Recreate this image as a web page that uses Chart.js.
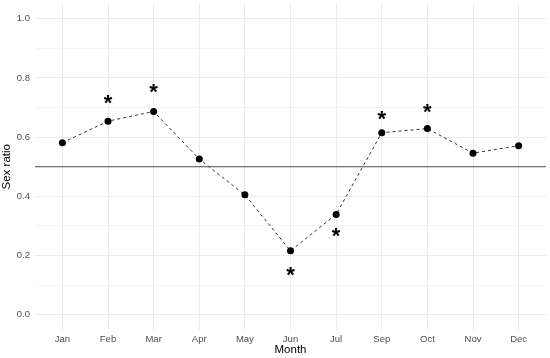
<!DOCTYPE html>
<html>
<head>
<meta charset="utf-8">
<script src="https://cdn.jsdelivr.net/npm/chart.js@4"></script>
<style>
  html, body { margin: 0; padding: 0; background: #fff; }
  .wrap { width: 550px; height: 358px; }
</style>
</head>
<body>
<div class="wrap"><canvas id="myChart"></canvas></div>
<script>
// data
const months = ["Jan", "Feb", "Mar", "Apr", "May", "Jun", "Jul", "Sep", "Oct", "Nov", "Dec"];
const sexRatio = [0.581, 0.654, 0.687, 0.526, 0.405, 0.216, 0.339, 0.615, 0.629, 0.546, 0.571];
// where the significance stars sit (null = none)
const starPos = [null, 0.728, 0.765, null, null, 0.148, 0.278, 0.676, 0.700, null, null];
const refLine = 0.5;

const ctx = document.getElementById("myChart");

const extras = {
  id: "extras",
  beforeDatasetsDraw(chart) {
    const { ctx, chartArea, scales } = chart;
    const y = scales.y.getPixelForValue(refLine);
    ctx.save();
    ctx.strokeStyle = "#4d4d4d";
    ctx.lineWidth = 1.2;
    ctx.beginPath();
    ctx.moveTo(chartArea.left, y);
    ctx.lineTo(chartArea.right, y);
    ctx.stroke();
    ctx.restore();
  },
  afterDatasetsDraw(chart) {
    const { ctx, scales } = chart;
    ctx.save();
    ctx.fillStyle = "#000";
    ctx.font = "bold 22px 'Liberation Sans', Arial, sans-serif";
    ctx.textAlign = "center";
    ctx.textBaseline = "alphabetic";
    starPos.forEach((v, i) => {
      if (v === null) return;
      const px = scales.x.getPixelForValue(i);
      const py = scales.y.getPixelForValue(v);
      ctx.fillText("*", px, py + 11);
    });
    ctx.restore();
  },
};

new Chart(ctx, {
  type: "line",
  data: {
    datasets: [
      {
        label: "Sex ratio",
        data: sexRatio.map((v, i) => ({ x: i, y: v })),
        borderColor: "#333",
        borderWidth: 1,
        borderDash: [3, 3],
        pointRadius: 3.5,
        pointBackgroundColor: "#000",
        pointBorderColor: "#000",
        pointBorderWidth: 0,
        tension: 0,
      },
    ],
  },
  options: {
    responsive: true,
    maintainAspectRatio: false,
    animation: false,
    layout: { padding: { left: 0, right: 3, top: 3.5, bottom: 0 } },
    plugins: {
      legend: { display: false },
      tooltip: { enabled: false },
    },
    scales: {
      x: {
        type: "linear",
        min: -0.6,
        max: months.length - 0.4,
        afterBuildTicks: (scale) => {
          scale.ticks = months.map((m, i) => ({ value: i }));
        },
        afterFit: (scale) => {
          scale.height = 28.5;
          scale.paddingLeft = 0;
          scale.paddingRight = 0;
        },
        border: { display: false },
        grid: { color: "#ebebeb", lineWidth: 1, drawTicks: false },
        ticks: {
          padding: 4,
          color: "#4d4d4d",
          font: { family: "'Liberation Sans', Arial", size: 9.5 },
          callback: (v) => months[v],
        },
        title: {
          display: true,
          text: "Month",
          color: "#000",
          padding: { top: 0, bottom: 1 },
          font: { family: "'Liberation Sans', Arial", size: 11.5 },
        },
      },
      y: {
        min: -0.05,
        max: 1.05,
        afterBuildTicks: (scale) => {
          const t = [];
          for (let k = 0; k <= 10; k++) t.push({ value: k / 10 });
          scale.ticks = t;
        },
        afterFit: (scale) => {
          scale.width = 35;
          scale.paddingTop = 0;
          scale.paddingBottom = 0;
        },
        border: { display: false },
        grid: {
          drawTicks: false,
          color: (c) => (Math.round(c.tick.value * 10) % 2 === 0 ? "#ebebeb" : "#f4f4f4"),
          lineWidth: 1,
        },
        ticks: {
          padding: 5,
          color: "#4d4d4d",
          font: { family: "'Liberation Sans', Arial", size: 9.5 },
          callback: (v) => (Math.round(v * 10) % 2 === 0 ? v.toFixed(1) : ""),
        },
        title: {
          display: true,
          text: "Sex ratio",
          color: "#000",
          padding: { top: 0, bottom: 0 },
          font: { family: "'Liberation Sans', Arial", size: 11.5 },
        },
      },
    },
  },
  plugins: [extras],
});
</script>
</body>
</html>
